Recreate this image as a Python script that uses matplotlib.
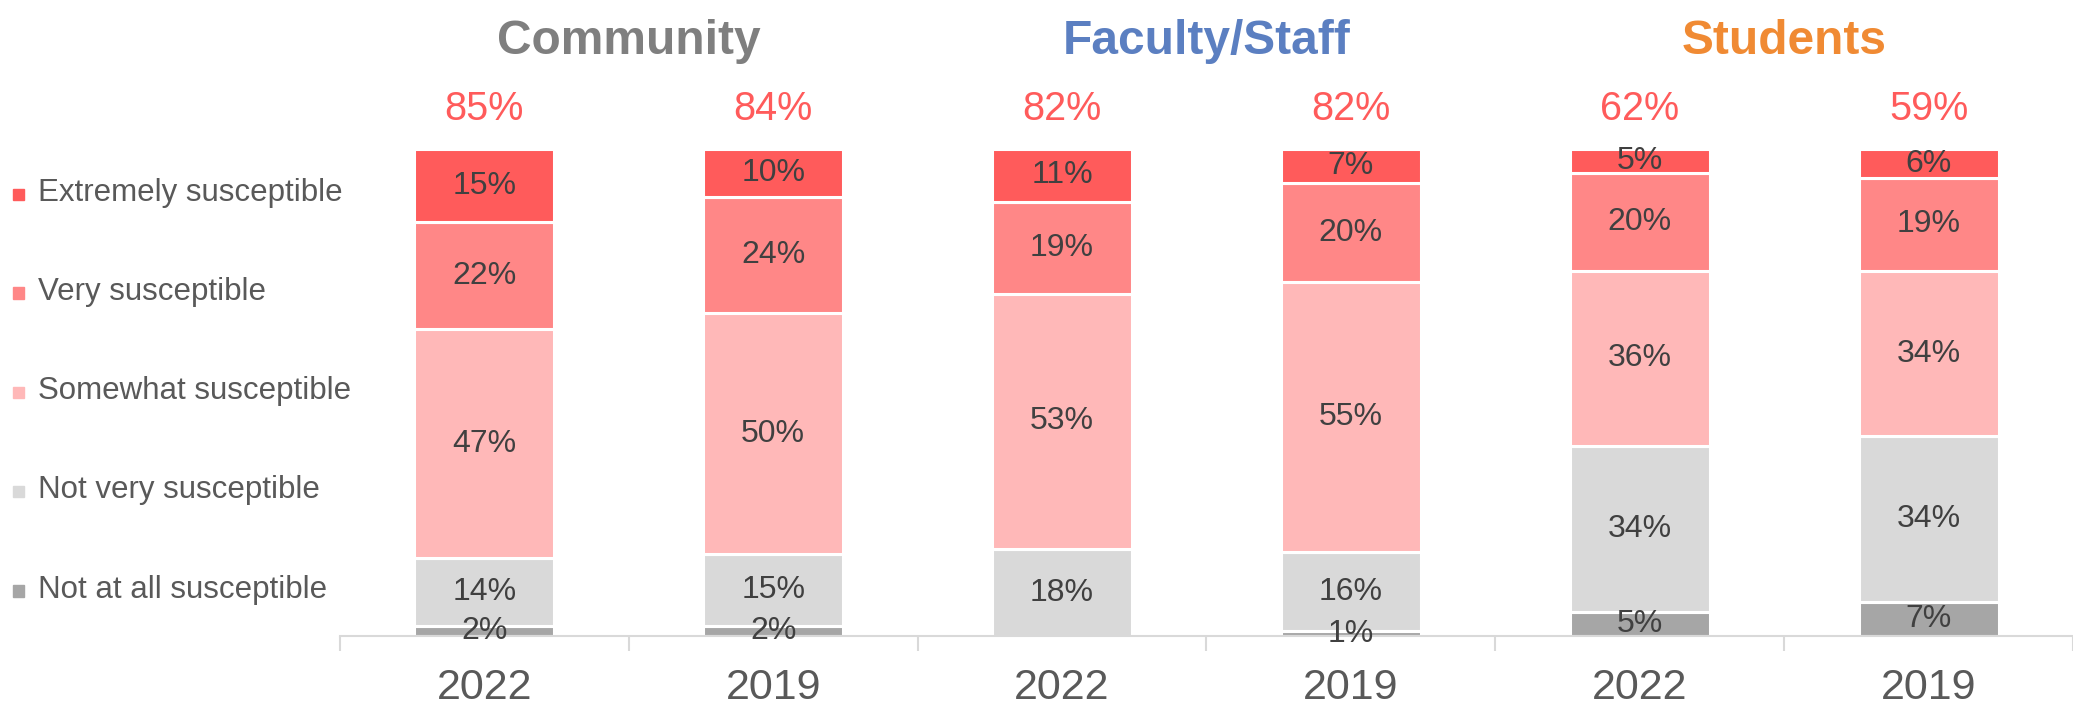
import matplotlib.pyplot as plt
from matplotlib.patches import Rectangle
import numpy as np

plt.rcParams['font.family'] = ['Liberation Sans', 'DejaVu Sans']

# ── data ───────────────────────────────────────────────────────────────────
years = ['2022', '2019', '2022', '2019', '2022', '2019']
groups = ['Community', 'Faculty/Staff', 'Students']
group_colors = ['#7F7F7F', '#5B7FC1', '#F08A33']

levels = ['Not at all susceptible', 'Not very susceptible', 'Somewhat susceptible',
          'Very susceptible', 'Extremely susceptible']
level_colors = ['#A6A6A6', '#D9D9D9', '#FFB8B8', '#FF8787', '#FF5B5B']

not_at_all = [2, 2, 0, 1, 5, 7]
not_very = [14, 15, 18, 16, 34, 34]
somewhat = [47, 50, 53, 55, 36, 34]
very = [22, 24, 19, 20, 20, 19]
extremely = [15, 10, 11, 7, 5, 6]
totals = [85, 84, 82, 82, 62, 59]

series = [not_at_all, not_very, somewhat, very, extremely]

# ── figure ─────────────────────────────────────────────────────────────────
fig = plt.figure(figsize=(20.73, 7.06), dpi=100, facecolor='white')
ax = fig.add_axes([0.164, 0.099, 0.836, 0.690])

x = np.arange(len(years))
vals = np.array(series, dtype=float)
shares = vals / vals.sum(axis=0)  # 100% stacked
bottom = np.zeros(len(years))
for s, raw, col in zip(shares, series, level_colors):
    ax.bar(x, s, width=0.485, bottom=bottom, color=col, edgecolor='white',
           linewidth=2.2)
    for xi, b, h, v in zip(x, bottom, s, raw):
        if v > 0:
            ax.text(xi, b + h / 2, f'{v}%', ha='center', va='center',
                    fontsize=23, color='#404040')
    bottom += s

# totals above bars
for xi, t in zip(x, totals):
    ax.text(xi, 1.083, f'{t}%', ha='center', va='center', fontsize=28.5,
            color='#FF5B5B', clip_on=False)

# group titles
for i, (g, c) in enumerate(zip(groups, group_colors)):
    ax.text(2 * i + 0.5, 1.22, g, ha='center', va='center', fontsize=34.5,
            fontweight='bold', color=c, clip_on=False)

ax.set_xlim(-0.5, len(years) - 0.5)
ax.set_ylim(0, 1)
ax.set_yticks([])
ax.set_xticks(x)
ax.set_xticklabels(years, fontsize=31, color='#595959')
ax.set_xticks(np.arange(-0.5, len(years)), minor=True)
ax.tick_params(axis='x', which='major', length=0, pad=23)
ax.tick_params(axis='x', which='minor', length=11, width=1.5, color='#D9D9D9')
for side in ['top', 'right', 'left']:
    ax.spines[side].set_visible(False)
ax.spines['bottom'].set_color('#D9D9D9')
ax.spines['bottom'].set_linewidth(1.5)

# legend, top entry = last series
leg_y = [0.727, 0.587, 0.446, 0.306, 0.165]
for lab, col, yy in zip(levels[::-1], level_colors[::-1], leg_y):
    fig.add_artist(Rectangle((0.0062, yy - 0.010), 0.0052, 0.016,
                             transform=fig.transFigure, color=col))
    fig.text(0.0185, yy, lab, ha='left', va='center', fontsize=22.5,
             color='#595959')

fig.savefig('out.png', dpi=100, facecolor='white')
